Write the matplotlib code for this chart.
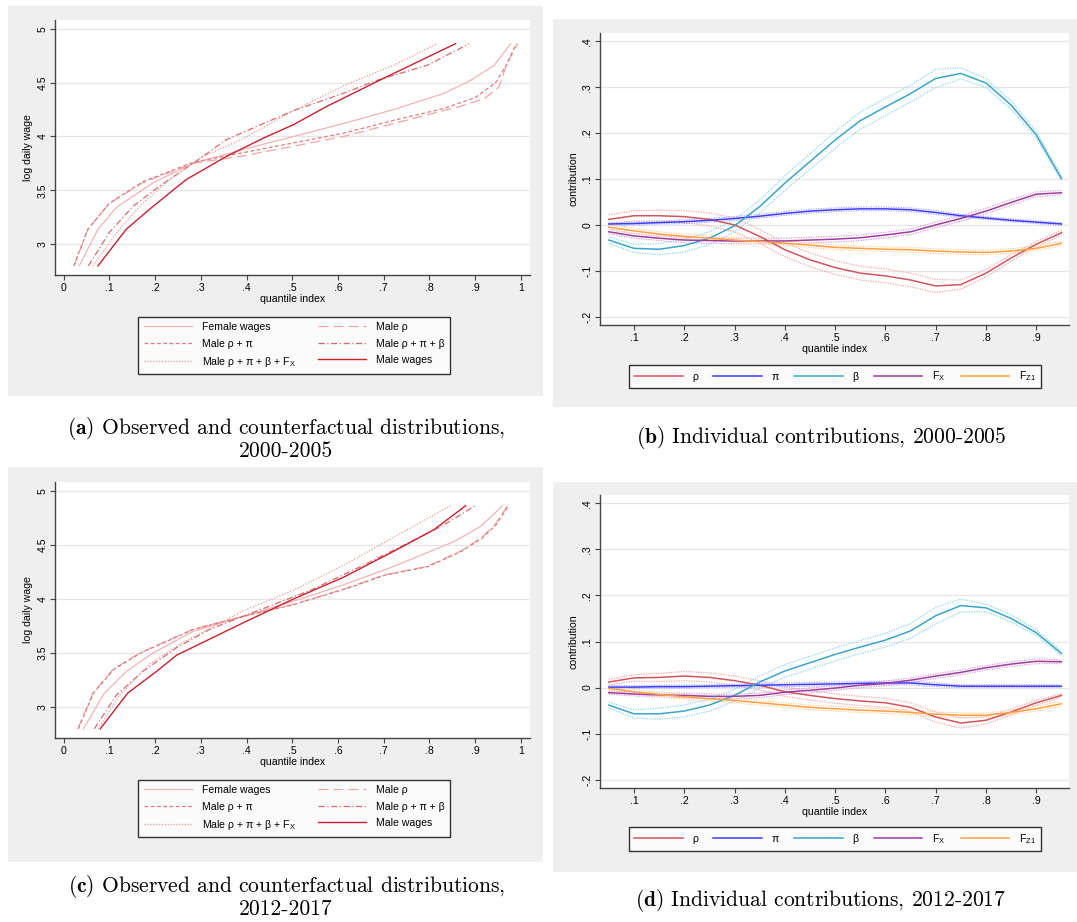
import matplotlib
matplotlib.use("Agg")
import matplotlib.pyplot as plt
from matplotlib.lines import Line2D
from matplotlib.patches import Rectangle

plt.rcParams["mathtext.fontset"] = "cm"
SANS = "Liberation Sans"
FS = 7.6

# ---------------- data: panel (a) 2000-2005 distributions ----------------
a_female_x = [0.034, 0.075, 0.115, 0.195, 0.283, 0.393, 0.503, 0.612, 0.722, 0.832, 0.890, 0.942, 0.978]
a_female_y = [2.80, 3.14, 3.34, 3.57, 3.75, 3.88, 4.00, 4.12, 4.25, 4.40, 4.52, 4.66, 4.86]
a_rho_x = [0.023, 0.053, 0.100, 0.173, 0.283, 0.393, 0.503, 0.612, 0.722, 0.868, 0.920, 0.952, 0.970, 0.993]
a_rho_y = [2.80, 3.14, 3.38, 3.57, 3.75, 3.82, 3.91, 4.00, 4.12, 4.28, 4.35, 4.46, 4.68, 4.86]
a_rhopi_x = [0.022, 0.053, 0.100, 0.173, 0.283, 0.393, 0.503, 0.612, 0.722, 0.832, 0.900, 0.945, 0.968, 0.990]
a_rhopi_y = [2.80, 3.14, 3.38, 3.58, 3.76, 3.85, 3.94, 4.03, 4.15, 4.26, 4.36, 4.50, 4.66, 4.86]
a_rpb_x = [0.054, 0.100, 0.151, 0.210, 0.283, 0.356, 0.393, 0.503, 0.612, 0.685, 0.795, 0.887]
a_rpb_y = [2.80, 3.11, 3.35, 3.54, 3.75, 3.97, 4.04, 4.24, 4.40, 4.52, 4.66, 4.86]
a_rpbf_x = [0.064, 0.122, 0.173, 0.232, 0.298, 0.393, 0.503, 0.612, 0.722, 0.817]
a_rpbf_y = [2.80, 3.14, 3.38, 3.60, 3.80, 3.98, 4.24, 4.47, 4.66, 4.86]
a_male_x = [0.075, 0.137, 0.195, 0.268, 0.356, 0.437, 0.503, 0.576, 0.700, 0.857]
a_male_y = [2.80, 3.14, 3.35, 3.60, 3.815, 3.985, 4.11, 4.28, 4.54, 4.86]

# ---------------- data: panel (c) 2012-2017 distributions ----------------
c_female_x = [0.043, 0.089, 0.137, 0.195, 0.283, 0.393, 0.503, 0.612, 0.722, 0.854, 0.912, 0.960]
c_female_y = [2.80, 3.13, 3.33, 3.50, 3.70, 3.84, 3.98, 4.13, 4.30, 4.53, 4.67, 4.86]
c_rho_x = [0.031, 0.064, 0.108, 0.166, 0.283, 0.393, 0.503, 0.612, 0.700, 0.795, 0.868, 0.912, 0.942, 0.971]
c_rho_y = [2.80, 3.13, 3.35, 3.50, 3.72, 3.84, 3.95, 4.09, 4.22, 4.30, 4.44, 4.56, 4.68, 4.86]
c_rhopi_x = [0.032, 0.065, 0.110, 0.168, 0.285, 0.395, 0.505, 0.615, 0.703, 0.798, 0.870, 0.915, 0.945, 0.973]
c_rhopi_y = [2.80, 3.13, 3.35, 3.50, 3.72, 3.84, 3.95, 4.09, 4.22, 4.30, 4.44, 4.56, 4.68, 4.86]
c_rpb_x = [0.067, 0.115, 0.173, 0.247, 0.320, 0.430, 0.540, 0.650, 0.760, 0.830, 0.900]
c_rpb_y = [2.80, 3.11, 3.33, 3.55, 3.72, 3.90, 4.08, 4.30, 4.53, 4.68, 4.86]
c_rpbf_x = [0.075, 0.122, 0.188, 0.261, 0.393, 0.503, 0.612, 0.722, 0.846]
c_rpbf_y = [2.80, 3.11, 3.40, 3.60, 3.89, 4.08, 4.31, 4.57, 4.86]
c_male_x = [0.080, 0.140, 0.203, 0.247, 0.320, 0.393, 0.503, 0.612, 0.722, 0.810, 0.879]
c_male_y = [2.80, 3.13, 3.33, 3.48, 3.63, 3.78, 4.00, 4.20, 4.44, 4.64, 4.86]

dist_labels = ["Female wages", "Male \u03c1", "Male \u03c1 + \u03c0", "Male \u03c1 + \u03c0 + \u03b2",
               "Male \u03c1 + \u03c0 + \u03b2 + F$_\\mathregular{X}$", "Male wages"]

# ---------------- data: contributions ----------------
q = [0.05, 0.10, 0.15, 0.20, 0.25, 0.30, 0.35, 0.40, 0.45, 0.50,
     0.55, 0.60, 0.65, 0.70, 0.75, 0.80, 0.85, 0.90, 0.95]

b_rho = [0.012, 0.020, 0.020, 0.018, 0.012, 0.000, -0.025, -0.054, -0.076, -0.093,
         -0.105, -0.111, -0.120, -0.133, -0.130, -0.105, -0.072, -0.042, -0.017]
b_pi = [0.002, 0.003, 0.005, 0.007, 0.010, 0.014, 0.019, 0.025, 0.030, 0.033,
        0.035, 0.035, 0.033, 0.027, 0.020, 0.015, 0.010, 0.006, 0.002]
b_beta = [-0.033, -0.051, -0.053, -0.045, -0.029, -0.002, 0.040, 0.091, 0.138, 0.185,
          0.227, 0.257, 0.286, 0.319, 0.330, 0.309, 0.261, 0.196, 0.101]
b_fx = [-0.015, -0.024, -0.029, -0.033, -0.034, -0.035, -0.035, -0.035, -0.033, -0.031,
        -0.028, -0.022, -0.015, 0.000, 0.014, 0.030, 0.049, 0.067, 0.070]
b_fz = [-0.005, -0.013, -0.020, -0.025, -0.029, -0.033, -0.036, -0.040, -0.044, -0.049,
        -0.051, -0.053, -0.054, -0.057, -0.059, -0.060, -0.057, -0.051, -0.040]

b_rho_ci = [0.010, 0.011, 0.012, 0.013, 0.014, 0.015, 0.015, 0.015, 0.015, 0.015,
            0.015, 0.015, 0.015, 0.014, 0.010, 0.008, 0.007, 0.006, 0.005]
b_pi_ci = [0.003, 0.003, 0.003, 0.004, 0.004, 0.004, 0.004, 0.004, 0.004, 0.004,
           0.004, 0.004, 0.004, 0.004, 0.003, 0.003, 0.003, 0.003, 0.003]
b_beta_ci = [0.007, 0.009, 0.012, 0.014, 0.014, 0.013, 0.014, 0.016, 0.017, 0.018,
             0.019, 0.019, 0.018, 0.020, 0.012, 0.010, 0.009, 0.007, 0.005]
b_fx_ci = [0.005, 0.005, 0.005, 0.006, 0.006, 0.006, 0.006, 0.006, 0.006, 0.006,
           0.006, 0.006, 0.006, 0.006, 0.006, 0.006, 0.006, 0.005, 0.005]
b_fz_ci = [0.005, 0.005, 0.005, 0.005, 0.005, 0.005, 0.005, 0.005, 0.005, 0.005,
           0.005, 0.005, 0.005, 0.005, 0.005, 0.005, 0.005, 0.005, 0.005]

d_rho = [0.012, 0.021, 0.022, 0.025, 0.022, 0.015, 0.005, -0.009, -0.017, -0.024,
         -0.029, -0.033, -0.043, -0.064, -0.077, -0.071, -0.053, -0.033, -0.017]
d_pi = [0.001, 0.001, 0.002, 0.002, 0.003, 0.004, 0.005, 0.006, 0.007, 0.008,
        0.009, 0.010, 0.010, 0.006, 0.003, 0.003, 0.003, 0.003, 0.003]
d_beta = [-0.038, -0.057, -0.057, -0.051, -0.038, -0.017, 0.012, 0.036, 0.054, 0.072,
          0.088, 0.103, 0.123, 0.156, 0.178, 0.173, 0.150, 0.119, 0.074]
d_fx = [-0.011, -0.014, -0.016, -0.017, -0.019, -0.019, -0.017, -0.010, -0.006, -0.001,
        0.005, 0.009, 0.016, 0.025, 0.033, 0.043, 0.051, 0.057, 0.056]
d_fz = [-0.002, -0.009, -0.015, -0.020, -0.024, -0.028, -0.033, -0.038, -0.043, -0.046,
        -0.049, -0.051, -0.054, -0.058, -0.060, -0.060, -0.054, -0.046, -0.035]

d_rho_ci = [0.006, 0.007, 0.009, 0.010, 0.010, 0.010, 0.010, 0.010, 0.010, 0.010,
            0.010, 0.010, 0.010, 0.011, 0.011, 0.008, 0.006, 0.005, 0.004]
d_pi_ci = [0.003, 0.003, 0.003, 0.003, 0.003, 0.003, 0.004, 0.004, 0.004, 0.004,
           0.004, 0.004, 0.004, 0.004, 0.003, 0.003, 0.003, 0.003, 0.003]
d_beta_ci = [0.006, 0.009, 0.012, 0.013, 0.013, 0.013, 0.013, 0.014, 0.014, 0.014,
             0.014, 0.015, 0.016, 0.018, 0.014, 0.008, 0.008, 0.006, 0.005]
d_fx_ci = [0.004, 0.004, 0.004, 0.005, 0.005, 0.005, 0.005, 0.005, 0.005, 0.005,
           0.005, 0.005, 0.005, 0.005, 0.005, 0.005, 0.005, 0.005, 0.004]
d_fz_ci = [0.005, 0.005, 0.005, 0.005, 0.005, 0.005, 0.005, 0.005, 0.005, 0.005,
           0.005, 0.005, 0.005, 0.005, 0.005, 0.005, 0.005, 0.005, 0.006]

contrib_labels = ["\u03c1", "\u03c0", "\u03b2", "F$_\\mathregular{X}$", "F$_\\mathregular{Z1}$"]

dist_xticks = [0, 0.1, 0.2, 0.3, 0.4, 0.5, 0.6, 0.7, 0.8, 0.9, 1.0]
dist_xticklabels = ["0", ".1", ".2", ".3", ".4", ".5", ".6", ".7", ".8", ".9", "1"]
dist_yticks = [3, 3.5, 4, 4.5, 5]
dist_yticklabels = ["3", "3.5", "4", "4.5", "5"]
con_xticks = [0.1, 0.2, 0.3, 0.4, 0.5, 0.6, 0.7, 0.8, 0.9]
con_xticklabels = [".1", ".2", ".3", ".4", ".5", ".6", ".7", ".8", ".9"]
con_yticks = [-0.2, -0.1, 0, 0.1, 0.2, 0.3, 0.4]
con_yticklabels = ["-.2", "-.1", "0", ".1", ".2", ".3", ".4"]

captions = {
    "a": ("(a)", "Observed and counterfactual distributions,", "2000-2005"),
    "b": ("(b)", "Individual contributions, 2000-2005", None),
    "c": ("(c)", "Observed and counterfactual distributions,", "2012-2017"),
    "d": ("(d)", "Individual contributions, 2012-2017", None),
}

# ---------------- styles ----------------
dist_styles = [
    dict(color="#f3b3b3", ls="-", lw=0.9),
    dict(color="#eea6a6", ls=(0, (8, 4)), lw=0.9),
    dict(color="#e27c7c", ls=(0, (3, 2)), lw=0.9),
    dict(color="#dc6a6a", ls=(0, (5, 2, 1, 2)), lw=0.9),
    dict(color="#ec9a9a", ls=(0, (1, 1.3)), lw=0.9),
    dict(color="#cc1f2d", ls="-", lw=1.0),
]
con_colors = ["#d2555d", "#3c3cfa", "#38a6cc", "#9f3c9f", "#ffa040"]
ci_colors = ["#f2a8a8", "#a8a8ff", "#92d4ee", "#d6a0d6", "#ffcf9c"]

W, H = 1077, 922
fig = plt.figure(figsize=(W / 100, H / 100), dpi=100)
fig.patch.set_facecolor("white")


def frect(l, t, r, b):
    return [l / W, 1 - b / H, (r - l) / W, (b - t) / H]


for (l, t, r, b) in [(8, 6, 543, 396), (553, 19, 1077, 407), (8, 467, 543, 862), (553, 482, 1077, 872)]:
    x0, y0, w, h = frect(l, t, r, b)
    fig.patches.append(Rectangle((x0, y0), w, h, transform=fig.transFigure,
                                 facecolor="#efefef", edgecolor="none", zorder=-10))


def style_axes(ax, xt, xtl, yt, ytl, xlim, ylim, ylabel):
    ax.set_facecolor("white")
    ax.set_xlim(*xlim)
    ax.set_ylim(*ylim)
    for s in ["top", "right"]:
        ax.spines[s].set_visible(False)
    for s in ["left", "bottom"]:
        ax.spines[s].set_color("#444444")
        ax.spines[s].set_linewidth(1.0)
    ax.set_xticks(xt)
    ax.set_xticklabels(xtl, fontfamily=SANS, fontsize=FS)
    ax.set_yticks(yt)
    ax.set_yticklabels(ytl, fontfamily=SANS, fontsize=FS, rotation=90, va="center")
    ax.tick_params(axis="both", direction="out", length=3.5, width=0.8, color="#444444", pad=2)
    ax.grid(axis="y", color="#e6e6e6", lw=0.9)
    ax.set_axisbelow(True)
    ax.set_xlabel("quantile index", fontfamily=SANS, fontsize=FS, labelpad=1)
    ax.set_ylabel(ylabel, fontfamily=SANS, fontsize=FS, labelpad=3)


def draw_dist(rect, series, legrect):
    ax = fig.add_axes(frect(*rect))
    style_axes(ax, dist_xticks, dist_xticklabels, dist_yticks, dist_yticklabels,
               (-0.019, 1.02), (2.715, 5.08), "log daily wage")
    handles = []
    for (xs, ys), st, lab in zip(series, dist_styles, dist_labels):
        h, = ax.plot(xs, ys, color=st["color"], ls=st["ls"], lw=st["lw"], label=lab)
        handles.append(h)
    order = [0, 2, 4, 1, 3, 5]
    leg = fig.legend([handles[i] for i in order], [dist_labels[i] for i in order],
                     loc="center", bbox_to_anchor=frect(*legrect), mode="expand", ncol=2,
                     prop=dict(family=SANS, size=FS), handlelength=4.6, handletextpad=0.9,
                     labelspacing=0.6, borderpad=0.5, frameon=True, fancybox=False)
    leg.get_frame().set_edgecolor("black")
    leg.get_frame().set_linewidth(1.0)
    return ax


def draw_con(rect, mains, cis, legrect):
    ax = fig.add_axes(frect(*rect))
    style_axes(ax, con_xticks, con_xticklabels, con_yticks, con_yticklabels,
               (0.0325, 0.965), (-0.218, 0.418), "contribution")
    handles = []
    for vals, half, c, cc, lab in zip(mains, cis, con_colors, ci_colors, contrib_labels):
        lo = [v - h for v, h in zip(vals, half)]
        hi = [v + h for v, h in zip(vals, half)]
        ax.plot(q, lo, color=cc, ls=(0, (1, 1)), lw=0.9)
        ax.plot(q, hi, color=cc, ls=(0, (1, 1)), lw=0.9)
    for vals, c, lab in zip(mains, con_colors, contrib_labels):
        h, = ax.plot(q, vals, color=c, lw=1.1, label=lab)
        handles.append(h)
    leg = fig.legend(handles, contrib_labels, loc="center", bbox_to_anchor=frect(*legrect),
                     mode="expand", ncol=5, prop=dict(family=SANS, size=FS),
                     handlelength=4.6, handletextpad=0.9, borderpad=0.45,
                     frameon=True, fancybox=False)
    leg.get_frame().set_edgecolor("black")
    leg.get_frame().set_linewidth(1.0)
    return ax


draw_dist((55, 20, 530, 275),
          [(a_female_x, a_female_y), (a_rho_x, a_rho_y), (a_rhopi_x, a_rhopi_y),
           (a_rpb_x, a_rpb_y), (a_rpbf_x, a_rpbf_y), (a_male_x, a_male_y)],
          (133, 314, 455, 377))
draw_dist((55, 482, 530, 738),
          [(c_female_x, c_female_y), (c_rho_x, c_rho_y), (c_rhopi_x, c_rhopi_y),
           (c_rpb_x, c_rpb_y), (c_rpbf_x, c_rpbf_y), (c_male_x, c_male_y)],
          (133, 777, 455, 840))
draw_con((600, 33, 1069, 325), [b_rho, b_pi, b_beta, b_fx, b_fz],
         [b_rho_ci, b_pi_ci, b_beta_ci, b_fx_ci, b_fz_ci], (624, 364, 1046, 389))
draw_con((600, 495, 1069, 788), [d_rho, d_pi, d_beta, d_fx, d_fz],
         [d_rho_ci, d_pi_ci, d_beta_ci, d_fx_ci, d_fz_ci], (624, 827, 1046, 851))

CAP_FS = 15.5
cap_pos = {"a": (286, 429, 451), "b": (821, 437, None), "c": (286, 886, 909), "d": (821, 900, None)}
for k, (tag, l1, l2) in captions.items():
    cx, y1, y2 = cap_pos[k]
    fig.text(cx / W, 1 - y1 / H, r"$\mathbf{" + tag + "}$ " + l1, ha="center", va="center",
             fontfamily="cmr10", fontsize=CAP_FS)
    if l2:
        fig.text(cx / W, 1 - y2 / H, l2, ha="center", va="center",
                 fontfamily="cmr10", fontsize=CAP_FS)

fig.savefig("out.png", dpi=100, facecolor="white")
